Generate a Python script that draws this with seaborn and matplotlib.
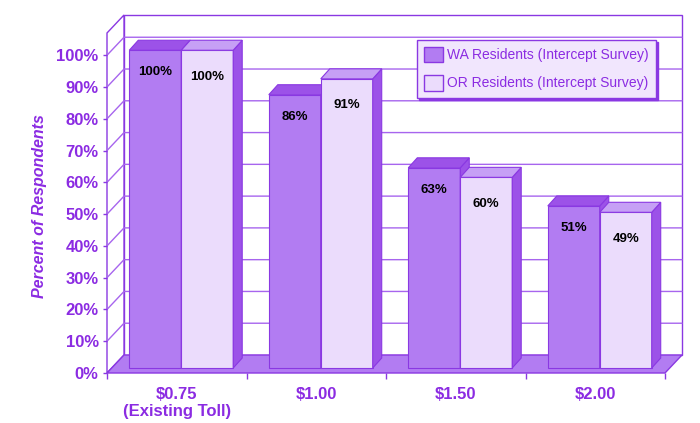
import numpy as np
import pandas as pd
import matplotlib
matplotlib.use("Agg")
import matplotlib.pyplot as plt
import seaborn as sns
from matplotlib.patches import Polygon, Patch

# data
prices = ["$0.75\n(Existing Toll)", "$1.00", "$1.50", "$2.00"]
wa_share = [1.00, 0.86, 0.63, 0.51]
or_share = [1.00, 0.91, 0.60, 0.49]
series = ["WA Residents (Intercept Survey)", "OR Residents (Intercept Survey)"]
y_ticks = [0.0, 0.1, 0.2, 0.3, 0.4, 0.5, 0.6, 0.7, 0.8, 0.9, 1.0]

df = pd.DataFrame({
    "price": prices * 2,
    "share": wa_share + or_share,
    "group": [series[0]] * len(prices) + [series[1]] * len(prices),
})

# colours
TEXT = "#8b2be2"
EDGE = "#8a38e2"
GRID = "#a765ee"
FRONT = ["#b27cf2", "#ebdcfc"]
TOP = ["#9c52e8", "#c6a0f5"]
SIDE = ["#9c52e8", "#9c52e8"]

sns.set_style("white")
plt.rcParams["font.family"] = ["Liberation Sans", "DejaVu Sans"]

fig = plt.figure(figsize=(7, 4.23), dpi=100)
ax = fig.add_axes([107 / 700, 50 / 423, 558 / 700, 340 / 423])
sns.barplot(data=df, x="price", y="share", hue="group", palette=FRONT,
            width=0.745, saturation=1, edgecolor=EDGE, linewidth=0.8,
            legend=False, ax=ax)
ax.set_xlim(-0.5, 3.5)
ax.set_ylim(0, 1.07)
ax.patch.set_visible(False)
for s in ax.spines.values():
    s.set_visible(False)

# pixel -> data conversions for the fake 3d depth
PX_X = 558 / 4
PX_Y = 340 / 1.07
bx, by = 17 / PX_X, 18 / PX_Y      # back wall offset
sx, sy = 4.5 / PX_X, 5 / PX_Y      # bar front offset from front plane
dx, dy = 9 / PX_X, 10 / PX_Y       # bar depth
x0, x1, top = -0.5, 3.5, 1.07

# walls
ax.add_patch(Polygon([(x0 + bx, by), (x1 + bx, by), (x1 + bx, top + by), (x0 + bx, top + by)],
                     closed=True, fc="white", ec=EDGE, lw=1, zorder=0, clip_on=False))
ax.add_patch(Polygon([(x0, 0), (x0 + bx, by), (x0 + bx, top + by), (x0, top)],
                     closed=True, fc="white", ec=EDGE, lw=1, zorder=0, clip_on=False))
for t in y_ticks[1:]:
    ax.plot([x0, x0 + bx, x1 + bx], [t, t + by, t + by], color=GRID, lw=1,
            zorder=0.5, clip_on=False)
# floor
ax.add_patch(Polygon([(x0, 0), (x1, 0), (x1 + bx, by), (x0 + bx, by)],
                     closed=True, fc=FRONT[0], ec=EDGE, lw=1, zorder=1, clip_on=False))

# 3d bars built on the seaborn rectangles
label_off = [16, 19]
for i, cont in enumerate(ax.containers):
    z = 3 + i
    for rect in cont:
        xl = rect.get_x() + sx
        w = rect.get_width()
        h = rect.get_height()
        rect.set_x(xl)
        rect.set_y(sy)
        rect.set_zorder(z)
        ax.add_patch(Polygon([(xl + w, sy), (xl + w + dx, sy + dy),
                              (xl + w + dx, sy + h + dy), (xl + w, sy + h)],
                             closed=True, fc=SIDE[i], ec=EDGE, lw=0.8, zorder=z))
        ax.add_patch(Polygon([(xl, sy + h), (xl + w, sy + h),
                              (xl + w + dx, sy + h + dy), (xl + dx, sy + h + dy)],
                             closed=True, fc=TOP[i], ec=EDGE, lw=0.8, zorder=z,
                             clip_on=False))
        ax.annotate(f"{int(round(h * 100))}%", xy=(xl + w / 2, sy + h),
                    xytext=(0, -label_off[i]), textcoords="offset points",
                    ha="center", va="center", fontsize=9.5, fontweight="bold",
                    color="black", zorder=8)

# axes text
ax.set_yticks(y_ticks)
ax.set_yticklabels([f"{int(round(t * 100))}%" for t in y_ticks])
ax.set_xticks(range(len(prices)))
ax.set_xticklabels(prices)
ax.set_xticks(np.arange(-0.5, 4, 1), minor=True)
ax.tick_params(axis="y", left=True, length=3, width=1, color=EDGE, pad=3,
               labelcolor=TEXT, labelsize=12)
ax.tick_params(axis="x", which="major", bottom=True, length=0, pad=10,
               labelcolor=TEXT, labelsize=12)
ax.tick_params(axis="x", which="minor", bottom=True, length=4, width=1, color=EDGE)
for lab in ax.get_xticklabels() + ax.get_yticklabels():
    lab.set_fontweight("bold")
ax.set_xlabel("")
ax.set_ylabel("Percent of Respondents", fontsize=11.5, fontweight="bold",
              fontstyle="italic", color=TEXT)
ax.yaxis.set_label_coords(-0.108, 0.49)

handles = [Patch(fc=FRONT[i], ec=EDGE, lw=1, label=series[i]) for i in range(2)]
leg = ax.legend(handles=handles, loc="upper right", bbox_to_anchor=(0.996, 1.0),
                fontsize=10, labelcolor=TEXT, frameon=True, fancybox=False,
                facecolor="#f1e6fd", edgecolor=EDGE, framealpha=1,
                handlelength=1.35, handleheight=1.35, labelspacing=0.9,
                borderpad=0.5, handletextpad=0.3,
                shadow={"color": EDGE, "alpha": 1, "ox": 1.5, "oy": -1.5})
leg.set_zorder(10)

fig.savefig("out.png", dpi=100, facecolor="white")
